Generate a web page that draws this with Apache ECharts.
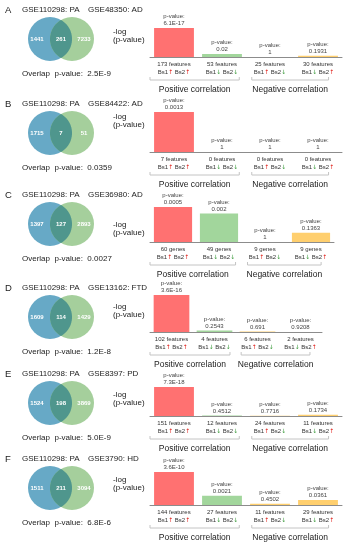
<!DOCTYPE html>
<html><head><meta charset="utf-8">
<script src="https://cdn.jsdelivr.net/npm/echarts@6/dist/echarts.min.js"></script>
<style>html,body{margin:0;padding:0;background:#fff}#c{width:347px;height:550px}</style>
</head><body><div id="c"></div>
<script>
// ---------- data ----------
const panelLetters = ['A','B','C','D','E','F'];
const baseSet = 'GSE110298: PA';
const otherSets = ['GSE48350: AD','GSE84422: AD','GSE36980: AD','GSE13162: FTD','GSE8397: PD','GSE3790: HD'];
const vennLeft  = [1441, 1715, 1397, 1609, 1524, 1511];
const vennBoth  = [261, 7, 127, 114, 198, 211];
const vennRight = [7233, 51, 2893, 1429, 3869, 3094];
const overlapP  = ['2.5E-9','0.0359','0.0027','1.2E-8','5.0E-9','6.8E-6'];

// -log10(p) bar heights per panel (4 categories)
const negLogA = [16.215, 1.699, 0, 0.714];
const negLogB = [2.886, 0, 0, 0];
const negLogC = [3.301, 2.699, 0, 0.866];
const negLogD = [15.444, 0.595, 0.161, 0.036];
const negLogE = [17.137, 0.346, 0.113, 0.761];
const negLogF = [9.444, 2.678, 0.347, 1.442];
const negLog = [negLogA, negLogB, negLogC, negLogD, negLogE, negLogF];

const pvalA = ['6.1E-17','0.02','1','0.1931'];
const pvalB = ['0.0013','1','1','1'];
const pvalC = ['0.0005','0.002','1','0.1363'];
const pvalD = ['3.6E-16','0.2543','0.691','0.9208'];
const pvalE = ['7.3E-18','0.4512','0.7716','0.1734'];
const pvalF = ['3.6E-10','0.0021','0.4502','0.0361'];
const pvals = [pvalA, pvalB, pvalC, pvalD, pvalE, pvalF];

const countsA = [173, 53, 25, 30];
const countsB = [7, 0, 0, 0];
const countsC = [60, 49, 9, 9];
const countsD = [102, 4, 6, 2];
const countsE = [151, 12, 24, 11];
const countsF = [144, 27, 11, 29];
const counts = [countsA, countsB, countsC, countsD, countsE, countsF];
const units = ['features','features','genes','features','features','features'];

const bs1Dir = ['u','d','u','d'];
const bs2Dir = ['u','d','d','u'];
const categories = ['pp','nn','pn','np'];
const groupLabels = ['Positive correlation','Negative correlation'];

// ---------- layout / style ----------
const FONT = 'Liberation Sans, Arial, sans-serif';
const barColors = ['#FF7171','#A2D69C','#FFCF6E','#FFCF6E'];
const titleY = [10, 104, 195, 288, 374, 459];
const baseY  = [57, 152, 242, 332, 416, 505];
const redH   = [29, 40, 35, 37, 29, 33];
const gridW  = [192, 192, 184, 172, 192, 192];
const logY   = [32, 117, 225, 307, 395, 480];
const GL = 150;

const chart = echarts.init(document.getElementById('c'));

const grids = [], xAxes = [], yAxes = [], series = [];
for (let i = 0; i < 6; i++) {
  grids.push({left: GL, width: gridW[i], top: baseY[i] - redH[i], height: redH[i]});
  xAxes.push({
    gridIndex: i, type: 'category', data: categories,
    axisTick: {show: false},
    axisLine: {lineStyle: {color: '#8c8c8c', width: 1}},
    axisLabel: {
      interval: 0, margin: 3, fontSize: 6, lineHeight: 8, color: '#333', fontFamily: FONT,
      formatter: (v, j) => counts[i][j] + ' ' + units[i] + '\n{t|Bs1}{' + bs1Dir[j] + '|' + (bs1Dir[j]==='u'?'↑':'↓') + '}{t| Bs2}{' + bs2Dir[j] + '|' + (bs2Dir[j]==='u'?'↑':'↓') + '}',
      rich: {
        t: {fontSize: 6, color: '#333', fontFamily: FONT},
        u: {fontSize: 6, color: '#e0201a', fontFamily: 'DejaVu Sans'},
        d: {fontSize: 6, color: '#3a9a3a', fontFamily: 'DejaVu Sans'}
      }
    }
  });
  yAxes.push({gridIndex: i, type: 'value', min: 0, max: 'dataMax', show: false});
  series.push({
    type: 'bar', xAxisIndex: i, yAxisIndex: i, barWidth: '83%', silent: true,
    data: negLog[i].map((v, j) => ({value: v, itemStyle: {color: barColors[j]}})),
    label: {
      show: true, position: 'top', distance: 1, fontSize: 6, lineHeight: 7,
      color: '#444', fontFamily: FONT,
      formatter: p => 'p-value:\n' + pvals[i][p.dataIndex]
    }
  });
}

chart.setOption({animation: false, grid: grids, xAxis: xAxes, yAxis: yAxes, series: series});

function lens(x1, x2, cy, r) {
  const d = x2 - x1, th = Math.acos(d / 2 / r), pts = [], N = 40;
  for (let k = 0; k <= N; k++) { const a = -th + 2 * th * k / N; pts.push([x1 + r * Math.cos(a), cy + r * Math.sin(a)]); }
  for (let k = 0; k <= N; k++) { const a = Math.PI - th + 2 * th * k / N; pts.push([x2 + r * Math.cos(a), cy + r * Math.sin(a)]); }
  return pts;
}
function txt(x, y, s, size, fill, align, weight) {
  return {type: 'text', x: x, y: y, silent: true,
    style: {text: s, fontSize: size, fontFamily: FONT, fill: fill || '#222', align: align || 'left', verticalAlign: 'middle', fontWeight: weight || 'normal'}};
}

const els = [];
for (let i = 0; i < 6; i++) {
  const ty = titleY[i];
  els.push(txt(5, ty, panelLetters[i], 9.5, '#222'));
  els.push(txt(22, ty, baseSet, 8, '#222'));
  els.push(txt(88, ty, otherSets[i], 8, '#222'));
  // Venn
  const cy = ty + 29, r = 22, x1 = 50, x2 = 72, xm = (x1 + x2) / 2;
  els.push({type: 'circle', silent: true, shape: {cx: x1, cy: cy, r: r}, style: {fill: '#67A9C6'}});
  els.push({type: 'circle', silent: true, shape: {cx: x2, cy: cy, r: r}, style: {fill: '#A5CF9C'}});
  els.push({type: 'polygon', silent: true, shape: {points: lens(x1, x2, cy, r)}, style: {fill: '#4F968D'}});
  els.push(txt(xm - 24, cy, String(vennLeft[i]), 6, '#fff', 'center', 'bold'));
  els.push(txt(xm, cy, String(vennBoth[i]), 6, '#fff', 'center', 'bold'));
  els.push(txt(xm + 23, cy, String(vennRight[i]), 6, '#fff', 'center', 'bold'));
  els.push(txt(22, ty + 64, 'Overlap  p-value:  ' + overlapP[i], 8, '#222'));
  els.push(txt(113, logY[i], '-log', 8, '#222'));
  els.push(txt(113, logY[i] + 8, '(p-value)', 8, '#222'));
  // brackets
  const c = [0,1,2,3].map(j => chart.convertToPixel({xAxisIndex: i}, j));
  const b = c[1] - c[0];
  const by = baseY[i] + 23;
  const spans = [[c[0] - 0.5 * b, c[1] + 0.36 * b], [c[2] - 0.38 * b, c[3] + 0.22 * b]];
  spans.forEach((s, k) => {
    els.push({type: 'polyline', silent: true, shape: {points: [[s[0], by - 3], [s[0], by], [s[1], by], [s[1], by - 3]]}, style: {stroke: '#c4c4c4', lineWidth: 1, fill: null}});
    els.push(txt((s[0] + s[1]) / 2, baseY[i] + 33, groupLabels[k], 8.5, '#222', 'center'));
  });
}
chart.setOption({graphic: {elements: els}});
</script></body></html>
